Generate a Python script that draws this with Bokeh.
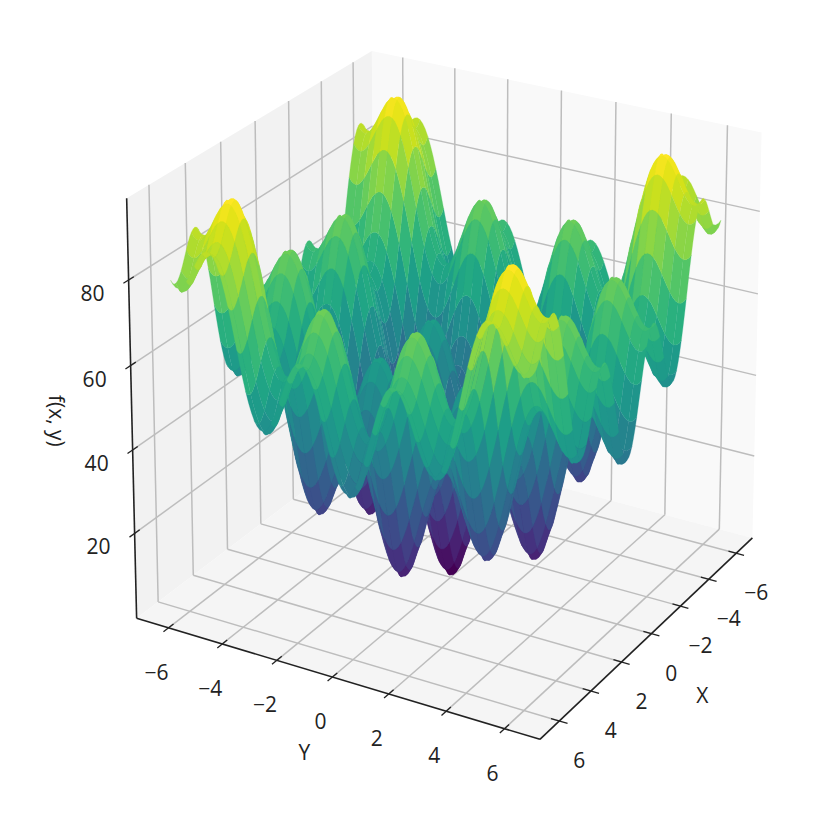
import numpy as np
from bokeh.plotting import figure
from bokeh.models import ColumnDataSource, Range1d
from bokeh.palettes import Viridis256
from bokeh.core.properties import value
from bokeh.embed import file_html
from bokeh.resources import INLINE

# ---- values ----
side_grid = [0.0,0.1,0.2,0.3,0.4,0.5,0.6,0.7,0.8,0.9,1.0,1.1,1.2,1.3,1.4,1.5,1.6,1.7,1.8,1.9,
             2.0,2.1,2.2,2.3,2.4,2.5,2.6,2.7,2.8,2.9,3.0,3.1,3.2,3.3,3.4,3.5,3.6,3.7,3.8,3.9,
             4.0,4.1,4.2,4.3,4.4,4.5,4.6,4.7,4.8,4.9,5.0,5.1,5.2,5.3,5.4,5.5,5.6,5.7,5.8,5.9,
             6.0,6.1,6.2,6.28]
side_height = [0.0,0.26,1.03,2.27,3.95,6.00,8.33,10.87,13.51,16.15,18.70,21.07,23.16,24.90,26.24,27.12,27.54,27.48,26.95,26.00,
               24.67,23.04,21.18,19.19,17.17,15.20,13.40,11.86,10.65,9.84,9.50,9.65,10.33,11.51,13.19,15.33,17.86,20.71,23.80,27.04,
               30.32,33.64,36.63,39.49,42.00,44.14,45.85,47.09,47.85,48.14,47.99,47.44,46.64,45.41,44.09,42.70,41.32,40.07,39.04,38.30,
               37.95,38.04,38.61,39.44]
xy_ticks = [-6, -4, -2, 0, 2, 4, 6]
z_ticks = [20, 40, 60, 80]
xy_tick_labels = ["\u22126", "\u22124", "\u22122", "0", "2", "4", "6"]
z_tick_labels = ["20", "40", "60", "80"]

# ---- view ----
BOX = 7.2
Z_LO, Z_HI = -0.6, 98.9
ELEV, AZIM, DIST = np.radians(20), np.radians(30), 10.0
ASPECT = np.array([1.19, 1.19, 0.893])
STRIDE = 3
FONT = "Open Sans"
W, H = 815, 812

R = ASPECT / 2
w_ = np.array([np.cos(ELEV)*np.cos(AZIM), np.cos(ELEV)*np.sin(AZIM), np.sin(ELEV)])
eye = R + DIST * w_
u_ = np.cross([0, 0, 1], w_); u_ /= np.linalg.norm(u_)
v_ = np.cross(w_, u_)

def project(x, y, z):
    x, y, z = np.asarray(x, float), np.asarray(y, float), np.asarray(z, float)
    P = np.stack([(x + BOX) / (2*BOX) * ASPECT[0], (y + BOX) / (2*BOX) * ASPECT[1],
                  (z - Z_LO) / (Z_HI - Z_LO) * ASPECT[2]], axis=-1) - eye
    d = -(P @ w_)
    return (P @ u_) / d, (P @ v_) / d, d

# page calibration: box corners and where they fall on the page
cal_3d = [(BOX,-BOX,Z_LO),(BOX,BOX,Z_LO),(-BOX,BOX,Z_LO),(BOX,-BOX,Z_HI),(-BOX,-BOX,Z_HI),(-BOX,BOX,Z_HI)]
cal_px = [(136,618),(539,739),(752,537),(126,197),(372,51),(761,132)]
cx, cy, _ = project(*np.array(cal_3d).T)
bx, ax = np.polyfit(cx, np.array(cal_px)[:,0], 1)
by, ay = np.polyfit(cy, np.array(cal_px)[:,1], 1)

p = figure(width=W, height=H, output_backend="svg", toolbar_location=None,
           x_range=Range1d((0-ax)/bx, (W-ax)/bx), y_range=Range1d((H-ay)/by, (0-ay)/by),
           x_axis_location=None, y_axis_location=None, min_border=0,
           outline_line_color=None, background_fill_color="white", border_fill_color="white")
p.grid.visible = False

def quad(pts, color):
    a, b, _ = project(*np.array(pts).T)
    p.patch(a, b, fill_color=color, line_color=None)

def seg(a3, b3, color, width):
    a, b, _ = project(*np.array([a3, b3]).T)
    p.line(a, b, line_color=color, line_width=width)

# panes
quad([(-BOX,-BOX,Z_LO),(-BOX,BOX,Z_LO),(-BOX,BOX,Z_HI),(-BOX,-BOX,Z_HI)], "#f9f9f9")
quad([(-BOX,-BOX,Z_LO),(BOX,-BOX,Z_LO),(BOX,-BOX,Z_HI),(-BOX,-BOX,Z_HI)], "#f2f2f2")
quad([(-BOX,-BOX,Z_LO),(BOX,-BOX,Z_LO),(BOX,BOX,Z_LO),(-BOX,BOX,Z_LO)], "#f5f5f5")

# grid
GRID = "#bdbdbd"
for t in xy_ticks:
    seg((t,-BOX,Z_LO),(t,BOX,Z_LO),GRID,1.5)
    seg((-BOX,t,Z_LO),(BOX,t,Z_LO),GRID,1.5)
    seg((t,-BOX,Z_LO),(t,-BOX,Z_HI),GRID,1.5)
    seg((-BOX,t,Z_LO),(-BOX,t,Z_HI),GRID,1.5)
for t in z_ticks:
    seg((BOX,-BOX,t),(-BOX,-BOX,t),GRID,1.5)
    seg((-BOX,-BOX,t),(-BOX,BOX,t),GRID,1.5)

# spines and ticks
INK = "#222222"
seg((BOX,-BOX,Z_LO),(BOX,BOX,Z_LO),INK,1.6)
seg((BOX,BOX,Z_LO),(-BOX,BOX,Z_LO),INK,1.6)
seg((BOX,-BOX,Z_LO),(BOX,-BOX,Z_HI),INK,1.6)
T = 0.28
for t in xy_ticks:
    seg((BOX-T,t,Z_LO),(BOX+T,t,Z_LO),INK,1.3)
    seg((t,BOX-T,Z_LO),(t,BOX+T,Z_LO),INK,1.3)
for t in z_ticks:
    seg((BOX-T,-BOX,t),(BOX+T,-BOX,t),INK,1.3)

# surface: the two sides mirror around the centre; each tile follows the fine grid along its edges
g = np.array(side_grid); h = np.array(side_height)
gx = np.r_[-g[:0:-1], g]
hs = np.r_[h[:0:-1], h]
Z = hs[:, None] + hs[None, :]
X, Y = np.meshgrid(gx, gx, indexing="ij")
px_, py_, depth = project(X, Y, Z)
n = len(gx) - 1
cuts = list(range(0, n + 1, STRIDE))
tiles = []
for a, b in zip(cuts[:-1], cuts[1:]):
    for c, d in zip(cuts[:-1], cuts[1:]):
        ii = [i for i in range(a, b)] + [b] * (d - c) + [i for i in range(b, a, -1)] + [a] * (d - c)
        jj = [c] * (b - a) + [j for j in range(c, d)] + [d] * (b - a) + [j for j in range(d, c, -1)]
        tiles.append((depth[ii, jj].mean(), px_[ii, jj], py_[ii, jj], Z[ii, jj].mean()))
tiles.sort(key=lambda r: -r[0])
zs = np.array([t[3] for t in tiles])
lo, hi = zs.min(), zs.max()
cs = [Viridis256[int(round((z - lo) / (hi - lo) * 255))] for z in zs]
src = ColumnDataSource(dict(xs=[t[1] for t in tiles], ys=[t[2] for t in tiles], c=cs))
p.patches("xs", "ys", source=src, fill_color="c", line_color="c", line_width=0.3)

# labels
def label(x3, y3, z3, txt, ox, oy, size="21px", angle=0):
    a, b, _ = project([x3], [y3], [z3])
    p.text(a, b, text=[txt], x_offset=ox, y_offset=oy, angle=angle, text_align="center", text_baseline="middle",
           text_font=value(FONT), text_font_size=size, text_color="#222222")

for t, s in zip(xy_ticks, xy_tick_labels):
    label(BOX, t, Z_LO, s, -12, 44)
    label(t, BOX, Z_LO, s, 20, 39)
for t, s in zip(z_ticks, z_tick_labels):
    label(BOX, -BOX, t, s, -36, 13)
label(BOX, 0, Z_LO, "Y", -28, 75)
label(0, BOX, Z_LO, "X", 51, 61)
label(BOX, -BOX, 50, "f(x, y)", -75, 13, "21px", -np.pi/2)

open("out.html", "w").write(file_html(p, INLINE))
